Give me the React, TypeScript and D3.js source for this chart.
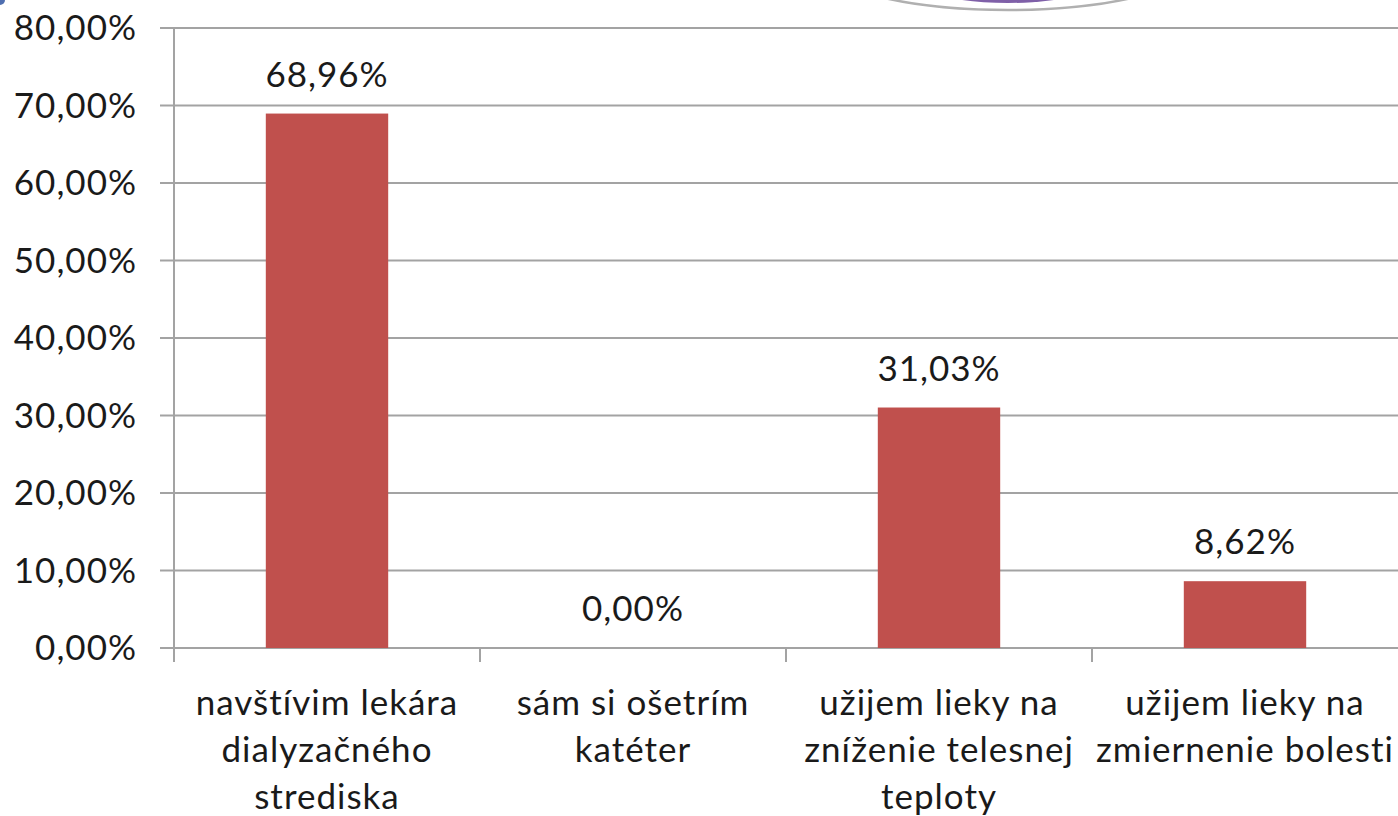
import React, { useEffect, useRef } from "react";
import * as d3 from "d3";

const categories = [
  ["navštívim lekára", "dialyzačného", "strediska"],
  ["sám si ošetrím", "katéter"],
  ["užijem lieky na", "zníženie telesnej", "teploty"],
  ["užijem lieky na", "zmiernenie bolesti"],
];
const values = [68.96, 0, 31.03, 8.62];
const yTicks = [0, 10, 20, 30, 40, 50, 60, 70, 80];

const W = 1398;
const H = 816;
const FONT = "Lato, 'Liberation Sans', sans-serif";
const FS = 35;
const LS = 1;
const fmt = (v: number) => v.toFixed(2).replace(".", ",") + "%";

export default function App() {
  const ref = useRef<SVGSVGElement>(null);

  useEffect(() => {
    const svg = d3.select(ref.current);
    svg.selectAll("*").remove();

    const left = 174;
    const right = 1398;
    const top = 28;
    const bottom = 648;

    const x = d3
      .scaleBand<number>()
      .domain(d3.range(values.length))
      .range([left, right])
      .paddingInner(0.6)
      .paddingOuter(0.3);
    const step = x.step();
    const y = d3.scaleLinear().domain([0, 80]).range([bottom, top]);

    svg.append("rect").attr("width", W).attr("height", H).attr("fill", "#fff");

    // decoration at the top (slide frame remnant)
    svg
      .append("ellipse")
      .attr("cx", 1008)
      .attr("cy", -40)
      .attr("rx", 190)
      .attr("ry", 50)
      .attr("fill", "#fff")
      .attr("stroke", "#b0b0b0")
      .attr("stroke-width", 2.5);
    svg
      .append("ellipse")
      .attr("cx", 1008)
      .attr("cy", -40)
      .attr("rx", 125)
      .attr("ry", 43)
      .attr("fill", "#7f60a8");
    svg
      .append("circle")
      .attr("cx", 0)
      .attr("cy", 0)
      .attr("r", 5)
      .attr("fill", "#4f6fb0");

    // gridlines
    svg
      .append("g")
      .selectAll("line")
      .data(yTicks)
      .enter()
      .append("line")
      .attr("x1", left - 14)
      .attr("x2", right)
      .attr("y1", (d) => y(d))
      .attr("y2", (d) => y(d))
      .attr("stroke", "#a3a3a3")
      .attr("stroke-width", 2);

    // y axis
    svg
      .append("line")
      .attr("x1", left)
      .attr("x2", left)
      .attr("y1", top)
      .attr("y2", bottom + 14)
      .attr("stroke", "#a3a3a3")
      .attr("stroke-width", 2);

    svg
      .append("g")
      .selectAll("text")
      .data(yTicks)
      .enter()
      .append("text")
      .attr("x", 137)
      .attr("y", (d) => y(d) + 12)
      .attr("text-anchor", "end")
      .attr("font-family", FONT)
      .attr("font-size", FS)
      .attr("letter-spacing", LS)
      .attr("fill", "#1a1a1a")
      .text((d) => fmt(d));

    // category ticks
    svg
      .append("g")
      .selectAll("line")
      .data(d3.range(values.length))
      .enter()
      .append("line")
      .attr("x1", (i) => left + i * step)
      .attr("x2", (i) => left + i * step)
      .attr("y1", bottom)
      .attr("y2", bottom + 14)
      .attr("stroke", "#a3a3a3")
      .attr("stroke-width", 2);

    // bars
    svg
      .append("g")
      .selectAll("rect")
      .data(values)
      .enter()
      .append("rect")
      .attr("x", (_, i) => x(i)!)
      .attr("width", x.bandwidth())
      .attr("y", (d) => y(d))
      .attr("height", (d) => bottom - y(d))
      .attr("fill", "#c0504d");

    // value labels
    svg
      .append("g")
      .selectAll("text")
      .data(values)
      .enter()
      .append("text")
      .attr("x", (_, i) => x(i)! + x.bandwidth() / 2)
      .attr("y", (d) => y(d) - 27)
      .attr("text-anchor", "middle")
      .attr("font-family", FONT)
      .attr("font-size", FS)
      .attr("letter-spacing", LS)
      .attr("fill", "#1a1a1a")
      .text((d) => fmt(d));

    // category labels
    const cat = svg
      .append("g")
      .selectAll("text")
      .data(categories)
      .enter()
      .append("text")
      .attr("text-anchor", "middle")
      .attr("font-family", FONT)
      .attr("font-size", FS)
      .attr("letter-spacing", LS)
      .attr("fill", "#1a1a1a");
    cat
      .selectAll("tspan")
      .data((d, i) => d.map((line) => ({ line, i })))
      .enter()
      .append("tspan")
      .attr("x", (d) => x(d.i)! + x.bandwidth() / 2)
      .attr("y", (_, j) => 715 + j * 47)
      .text((d) => d.line);
  }, []);

  return (
    <svg
      ref={ref}
      width={W}
      height={H}
      style={{ position: "absolute", left: 0, top: 0 }}
    />
  );
}
